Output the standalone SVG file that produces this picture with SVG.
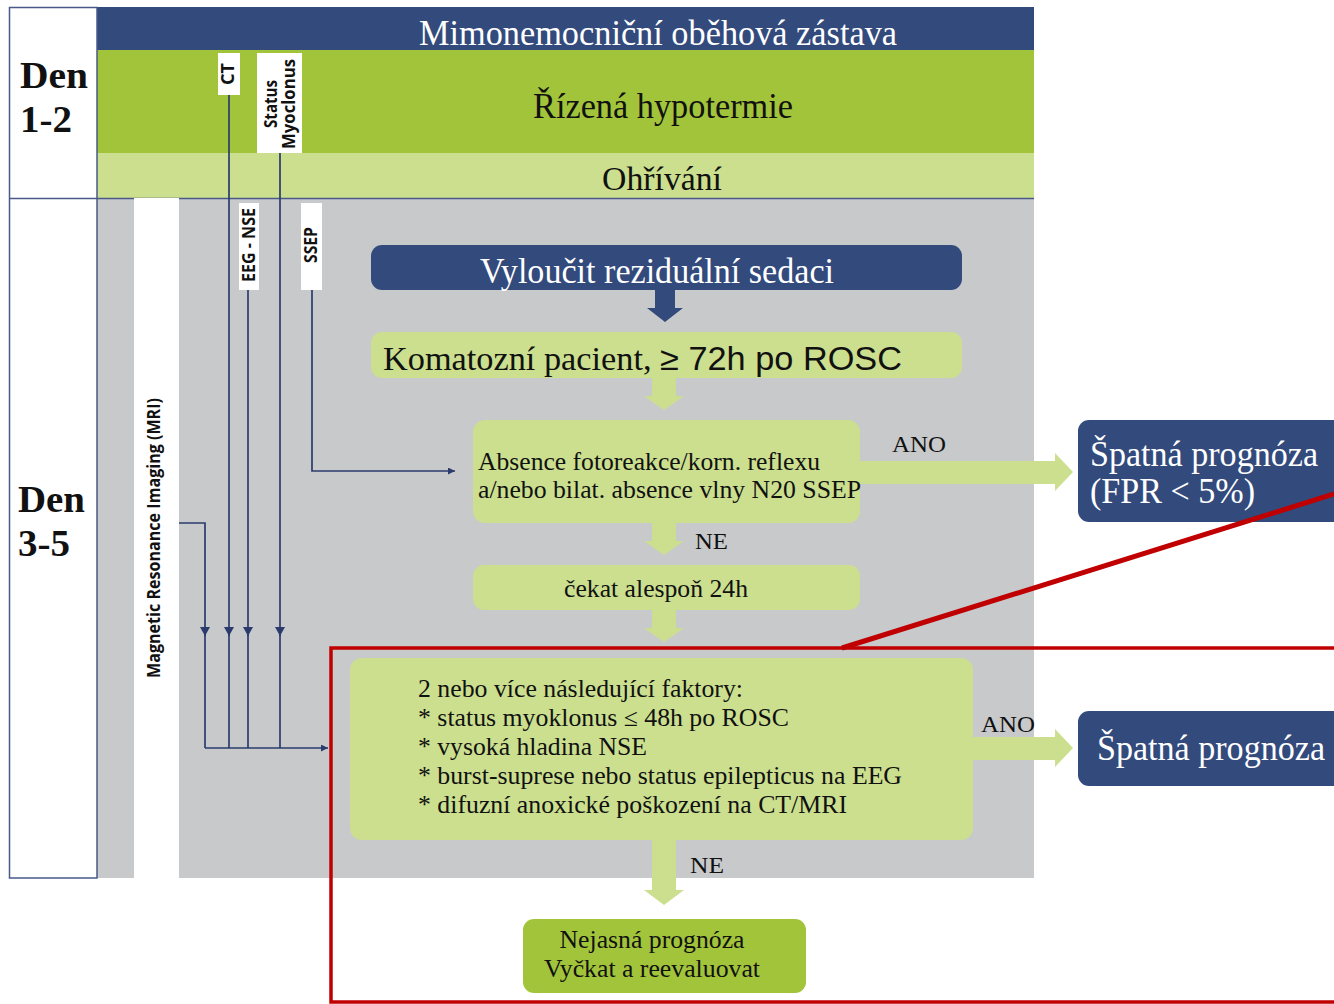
<svg xmlns="http://www.w3.org/2000/svg" width="1334" height="1004" viewBox="0 0 1334 1004">
<defs>
<style>
.serif{font-family:"Liberation Serif","Times New Roman",serif;}
.sans{font-family:"Liberation Sans",Arial,sans-serif;}
.lbl{font-family:"Open Sans","Liberation Sans",sans-serif;font-weight:bold;font-size:17px;fill:#111;}
.wt{fill:#ffffff;}
.dk{fill:#111111;}
.navy{fill:#334a7c;}
.lg{fill:#cbdf8f;}
.dg{fill:#a2c43b;}
.conn{stroke:#2b3b6e;stroke-width:1.7;fill:none;}
.tag{fill:#ffffff;}
</style>
<marker id="ah" viewBox="0 0 10 10" refX="10" refY="5" markerWidth="7" markerHeight="7" orient="auto" markerUnits="userSpaceOnUse">
<path d="M0,0 L10,5 L0,10 z" fill="#2b3b6e"/>
</marker>
</defs>
<rect width="1334" height="1004" fill="#ffffff"/>

<g id="bands">
<rect x="97" y="7" width="937" height="43" class="navy"/>
<text class="serif wt" x="658" y="45" font-size="36" text-anchor="middle" textLength="478" lengthAdjust="spacingAndGlyphs">Mimonemocniční oběhová zástava</text>
<rect x="97" y="50" width="937" height="103" class="dg"/>
<text class="serif dk" x="663" y="118" font-size="35" text-anchor="middle" textLength="260" lengthAdjust="spacingAndGlyphs">Řízená hypotermie</text>
<rect x="97" y="153" width="937" height="45" class="lg"/>
<text class="serif dk" x="662" y="190" font-size="33" text-anchor="middle" textLength="120" lengthAdjust="spacingAndGlyphs">Ohřívání</text>
<rect x="97" y="198" width="937" height="680" fill="#c8c9cb"/>
</g>

<g id="days">
<rect x="9.5" y="7.5" width="87.5" height="870.5" fill="#ffffff" stroke="#4a5a88" stroke-width="1.5"/>
<line x1="9.5" y1="198.5" x2="1034" y2="198.5" stroke="#4a5a88" stroke-width="1.5"/>
<text class="serif dk" font-weight="bold" font-size="38" x="20" y="88" textLength="68" lengthAdjust="spacingAndGlyphs">Den</text>
<text class="serif dk" font-weight="bold" font-size="38" x="20" y="132" textLength="52" lengthAdjust="spacingAndGlyphs">1-2</text>
<text class="serif dk" font-weight="bold" font-size="38" x="18" y="512" textLength="67" lengthAdjust="spacingAndGlyphs">Den</text>
<text class="serif dk" font-weight="bold" font-size="38" x="18" y="556" textLength="52" lengthAdjust="spacingAndGlyphs">3-5</text>
</g>

<g id="mri">
<rect x="134" y="198" width="45" height="680" class="tag"/>
<text class="lbl" transform="translate(160,538) rotate(-90)" text-anchor="middle" textLength="280" lengthAdjust="spacingAndGlyphs">Magnetic Resonance Imaging (MRI)</text>
</g>
<g id="ct">
<rect x="218" y="53" width="22" height="42" class="tag"/>
<text class="lbl" transform="translate(234,74) rotate(-90)" text-anchor="middle" textLength="22" lengthAdjust="spacingAndGlyphs">CT</text>
</g>
<g id="status">
<rect x="257" y="53" width="45" height="100" class="tag"/>
<text class="lbl" transform="translate(277,104) rotate(-90)" text-anchor="middle" textLength="48" lengthAdjust="spacingAndGlyphs">Status</text>
<text class="lbl" transform="translate(295,104) rotate(-90)" text-anchor="middle" textLength="90" lengthAdjust="spacingAndGlyphs">Myoclonus</text>
</g>
<g id="eeg">
<rect x="239" y="203" width="20" height="87" class="tag"/>
<text class="lbl" transform="translate(255,245) rotate(-90)" text-anchor="middle" textLength="74" lengthAdjust="spacingAndGlyphs">EEG - NSE</text>
</g>
<g id="ssep">
<rect x="301" y="203" width="21" height="87" class="tag"/>
<text class="lbl" transform="translate(317,245) rotate(-90)" text-anchor="middle" textLength="36" lengthAdjust="spacingAndGlyphs">SSEP</text>
</g>

<g id="connectors">
<polyline class="conn" points="179,523 205,523 205,636"/>
<line class="conn" x1="229" y1="95" x2="229" y2="636"/>
<line class="conn" x1="248" y1="290" x2="248" y2="636"/>
<line class="conn" x1="280" y1="153" x2="280" y2="636"/>
<line class="conn" x1="205" y1="630" x2="205" y2="748"/>
<line class="conn" x1="229" y1="630" x2="229" y2="748"/>
<line class="conn" x1="248" y1="630" x2="248" y2="748"/>
<line class="conn" x1="280" y1="630" x2="280" y2="748"/>
<path d="M200,627 L210,627 L205,636 z M224,627 L234,627 L229,636 z M243,627 L253,627 L248,636 z M275,627 L285,627 L280,636 z" fill="#2b3b6e"/>
<line class="conn" x1="205" y1="748" x2="328" y2="748" marker-end="url(#ah)"/>
<polyline class="conn" points="312,290 312,471 455,471" marker-end="url(#ah)"/>
<path d="M655,290 L675,290 L675,308 L683,308 L665,322 L647,308 L655,308 z" class="navy"/>
<path d="M652,378 L676,378 L676,396 L684,396 L664,410 L644,396 L652,396 z" class="lg"/>
<path d="M652,523 L676,523 L676,541 L684,541 L664,555 L644,541 L652,541 z" class="lg"/>
<path d="M652,610 L676,610 L676,628 L684,628 L664,642 L644,628 L652,628 z" class="lg"/>
<path d="M652,840 L676,840 L676,890 L684,890 L664,905 L644,890 L652,890 z" class="lg"/>
<path d="M860,461 L1055,461 L1055,453 L1073,472 L1055,491 L1055,484 L860,484 z" class="lg"/>
<path d="M973,737 L1055,737 L1055,729 L1073,748 L1055,767 L1055,760 L973,760 z" class="lg"/>
<text class="serif dk" font-size="24" x="892" y="452" textLength="54" lengthAdjust="spacingAndGlyphs">ANO</text>
<text class="serif dk" font-size="24" x="695" y="549" textLength="33" lengthAdjust="spacingAndGlyphs">NE</text>
<text class="serif dk" font-size="24" x="981" y="732" textLength="54" lengthAdjust="spacingAndGlyphs">ANO</text>
<text class="serif dk" font-size="24" x="690" y="873" textLength="34" lengthAdjust="spacingAndGlyphs">NE</text>
</g>

<g id="n-sedace">
<rect x="371" y="245" width="591" height="45" rx="11" class="navy"/>
<text class="serif wt" font-size="35" x="657" y="283" text-anchor="middle" textLength="354" lengthAdjust="spacingAndGlyphs">Vyloučit reziduální sedaci</text>
</g>
<g id="n-komatozni">
<rect x="371" y="332" width="591" height="46" rx="11" class="lg"/>
<text class="dk" font-size="33" x="383" y="370" textLength="519" lengthAdjust="spacingAndGlyphs"><tspan class="serif">Komatozní pacient, </tspan><tspan class="sans">≥ 72h po ROSC</tspan></text>
</g>
<g id="n-absence">
<rect x="473" y="420" width="387" height="103" rx="12" class="lg"/>
<text class="serif dk" font-size="25" x="478" y="470" textLength="342" lengthAdjust="spacingAndGlyphs">Absence fotoreakce/korn. reflexu</text>
<text class="serif dk" font-size="25" x="478" y="498" textLength="383" lengthAdjust="spacingAndGlyphs">a/nebo bilat. absence vlny N20 SSEP</text>
</g>
<g id="n-spatna1">
<rect x="1078" y="420" width="270" height="102" rx="11" class="navy"/>
<text class="serif wt" font-size="35" x="1090" y="466" textLength="228" lengthAdjust="spacingAndGlyphs">Špatná prognóza</text>
<text class="serif wt" font-size="35" x="1090" y="503" textLength="165" lengthAdjust="spacingAndGlyphs">(FPR &lt; 5%)</text>
</g>
<g id="n-cekat">
<rect x="473" y="565" width="387" height="45" rx="11" class="lg"/>
<text class="serif dk" font-size="25" x="656" y="597" text-anchor="middle" textLength="184" lengthAdjust="spacingAndGlyphs">čekat alespoň 24h</text>
</g>
<g id="n-faktory">
<rect x="350" y="658" width="623" height="182" rx="12" class="lg"/>
<text class="serif dk" font-size="25" x="418" y="697" textLength="325" lengthAdjust="spacingAndGlyphs">2 nebo více následující faktory:</text>
<text class="serif dk" font-size="25" x="418" y="726" textLength="371" lengthAdjust="spacingAndGlyphs">* status myoklonus ≤ 48h po ROSC</text>
<text class="serif dk" font-size="25" x="418" y="755" textLength="229" lengthAdjust="spacingAndGlyphs">* vysoká hladina NSE</text>
<text class="serif dk" font-size="25" x="418" y="784" textLength="484" lengthAdjust="spacingAndGlyphs">* burst-suprese nebo status epilepticus na EEG</text>
<text class="serif dk" font-size="25" x="418" y="813" textLength="429" lengthAdjust="spacingAndGlyphs">* difuzní anoxické poškození na CT/MRI</text>
</g>
<g id="n-spatna2">
<rect x="1078" y="711" width="270" height="75" rx="11" class="navy"/>
<text class="serif wt" font-size="35" x="1097" y="760" textLength="228" lengthAdjust="spacingAndGlyphs">Špatná prognóza</text>
</g>
<g id="n-nejasna">
<rect x="523" y="919" width="283" height="74" rx="11" class="dg"/>
<text class="serif dk" font-size="25" x="652" y="948" text-anchor="middle" textLength="185" lengthAdjust="spacingAndGlyphs">Nejasná prognóza</text>
<text class="serif dk" font-size="25" x="652" y="977" text-anchor="middle" textLength="216" lengthAdjust="spacingAndGlyphs">Vyčkat a reevaluovat</text>
</g>

<g id="callout">
<rect x="331" y="648" width="1100" height="354" fill="none" stroke="#c00000" stroke-width="3.5"/>
<line x1="842" y1="648" x2="1334" y2="494" stroke="#c00000" stroke-width="5"/>
</g>
</svg>
